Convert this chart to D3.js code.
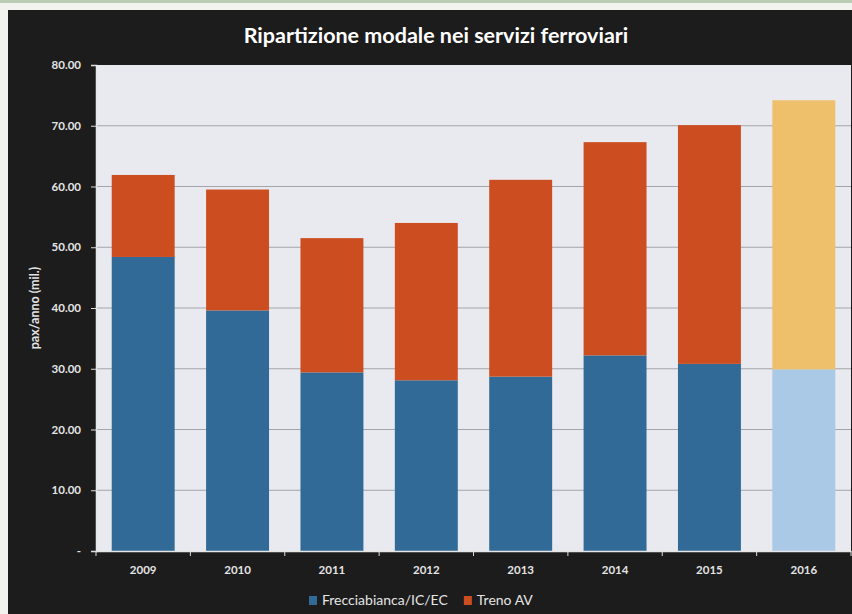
<!DOCTYPE html>
<html>
<head>
<meta charset="utf-8">
<script src="https://cdn.jsdelivr.net/npm/d3@7/dist/d3.min.js"></script>
<style>
  html, body { margin: 0; padding: 0; background: #ffffff; }
  svg { display: block; }
  text { font-family: Lato, "Open Sans", sans-serif; }
</style>
</head>
<body>
<svg id="chart" width="852" height="614"></svg>
<script>
// Passeggeri annui (milioni) per tipo di servizio
const anni = ["2009", "2010", "2011", "2012", "2013", "2014", "2015", "2016"];
const frecciabianca = [48.4, 39.6, 29.4, 28.1, 28.7, 32.2, 30.8, 29.9];
const trenoAV = [13.5, 19.9, 22.1, 25.9, 32.4, 35.1, 39.3, 44.3];
// ultimo anno: stima, disegnato con tinte più chiare
const stima = [false, false, false, false, false, false, false, true];
const serie = ["Frecciabianca/IC/EC", "Treno AV"];
const yTicks = [0, 10, 20, 30, 40, 50, 60, 70, 80];

const colori = {
  "Frecciabianca/IC/EC": { base: "#316a97", stima: "#a9c9e7" },
  "Treno AV": { base: "#cc4d1f", stima: "#efc06c" }
};

const svg = d3.select("#chart");
const W = 852, H = 614;
const plot = { left: 96, right: 851, top: 65, bottom: 551 };

// cornice esterna e sfondo scuro
svg.append("rect").attr("x", 0).attr("y", 0).attr("width", W).attr("height", H).attr("fill", "#f2f3ef");
svg.append("rect").attr("x", 0).attr("y", 0).attr("width", W).attr("height", 3).attr("fill", "#b9ccb4");
svg.append("rect").attr("x", 8).attr("y", 10).attr("width", W - 8).attr("height", H - 10).attr("fill", "#1c1c1c");

// area del grafico
svg.append("rect")
  .attr("x", plot.left).attr("y", plot.top)
  .attr("width", plot.right - plot.left).attr("height", plot.bottom - plot.top)
  .attr("fill", "#e9eaef");

const x = d3.scaleBand().domain(anni).range([plot.left, plot.right]).paddingInner(0.333).paddingOuter(0.1665);
const y = d3.scaleLinear().domain([0, 80]).range([plot.bottom, plot.top]);

// griglia orizzontale
svg.append("g").selectAll("line")
  .data(yTicks.filter(t => t > 0 && t < 80))
  .join("line")
  .attr("x1", plot.left).attr("x2", plot.right)
  .attr("y1", d => y(d)).attr("y2", d => y(d))
  .attr("stroke", "#a4a5aa").attr("stroke-width", 1);

// barre impilate
const righe = anni.map((a, i) => ({
  anno: a,
  "Frecciabianca/IC/EC": frecciabianca[i],
  "Treno AV": trenoAV[i],
  stima: stima[i]
}));
const stack = d3.stack().keys(serie)(righe);

svg.append("g").selectAll("g")
  .data(stack)
  .join("g")
  .each(function(layer) {
    d3.select(this).selectAll("rect")
      .data(layer)
      .join("rect")
      .attr("x", d => x(d.data.anno))
      .attr("width", x.bandwidth())
      .attr("y", d => y(d[1]))
      .attr("height", d => y(d[0]) - y(d[1]))
      .attr("fill", d => d.data.stima ? colori[layer.key].stima : colori[layer.key].base);
  });

// asse y
const yAxis = svg.append("g")
  .attr("transform", `translate(${plot.left},0)`)
  .call(d3.axisLeft(y).tickValues(yTicks).tickSize(5).tickPadding(10)
    .tickFormat(d => d === 0 ? "-" : d3.format(".2f")(d)));
yAxis.select(".domain").attr("stroke", "#e6e6e6").attr("stroke-width", 1.5);
yAxis.selectAll(".tick line").attr("stroke", "#dcdcdc");
yAxis.selectAll(".tick text")
  .attr("fill", "#e4e4e4").attr("font-size", 11.5).attr("font-weight", 700);

// asse x
const xAxis = svg.append("g")
  .attr("transform", `translate(0,${plot.bottom})`)
  .call(d3.axisBottom(x).tickSize(0).tickPadding(15));
xAxis.select(".domain").attr("stroke", "#e6e6e6").attr("stroke-width", 1.5);
xAxis.selectAll(".tick text")
  .attr("fill", "#e4e4e4").attr("font-size", 11.5).attr("font-weight", 700);
// tacche di separazione tra le categorie
const step = x.step();
xAxis.append("g").selectAll("line")
  .data(d3.range(anni.length + 1))
  .join("line")
  .attr("x1", i => plot.left + i * step).attr("x2", i => plot.left + i * step)
  .attr("y1", 0).attr("y2", 5)
  .attr("stroke", "#dcdcdc");

// titolo
svg.append("text")
  .attr("x", 436).attr("y", 43)
  .attr("text-anchor", "middle")
  .attr("fill", "#ffffff")
  .attr("font-size", 21.5).attr("font-weight", 700)
  .text("Ripartizione modale nei servizi ferroviari");

// titolo asse y
svg.append("text")
  .attr("transform", `translate(39,${(plot.top + plot.bottom) / 2}) rotate(-90)`)
  .attr("text-anchor", "middle")
  .attr("fill", "#e4e4e4")
  .attr("font-size", 12.5).attr("font-weight", 700)
  .text("pax/anno (mil.)");

// legenda
const legenda = svg.append("g");
let lx = 309;
serie.forEach(nome => {
  legenda.append("rect")
    .attr("x", lx).attr("y", 596).attr("width", 8).attr("height", 9)
    .attr("fill", colori[nome].base);
  const t = legenda.append("text")
    .attr("x", lx + 13).attr("y", 605)
    .attr("fill", "#e4e4e4").attr("font-size", 14)
    .text(nome);
  lx += 13 + t.node().getComputedTextLength() + 16;
});
</script>
</body>
</html>
